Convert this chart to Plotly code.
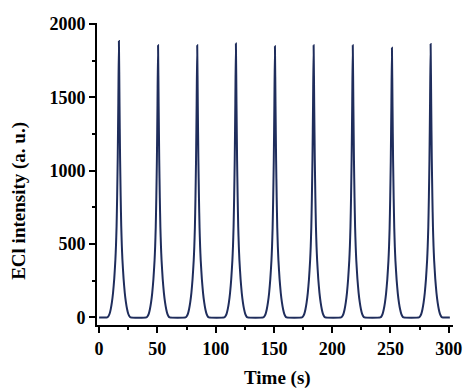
import plotly.graph_objects as go

# Peak data
peak_times = [17.0, 50.6, 84.2, 117.4, 150.9, 184.1, 217.7, 251.3, 284.5]
peak_heights = [1886, 1856, 1856, 1868, 1849, 1856, 1856, 1840, 1865]

# Shape of a single ECL pulse (offset in s, fraction of peak height)
profile_offsets = [-10, -9, -8, -7, -6, -5, -4, -3, -2.5, -2, -1.5, -1, -0.5, 0,
                   0.5, 1, 1.5, 2, 2.5, 3, 4, 5, 6, 7, 8, 9, 10]
profile_fractions = [0, 0.004, 0.013, 0.03, 0.055, 0.09, 0.14, 0.21, 0.26, 0.33, 0.44, 0.58, 0.78, 1.0,
                     0.78, 0.58, 0.44, 0.33, 0.26, 0.21, 0.14, 0.09, 0.055, 0.03, 0.013, 0.004, 0]

t_start, t_end = 0.0, 301.0

x_tick_vals = [0, 50, 100, 150, 200, 250, 300]
y_tick_vals = [0, 500, 1000, 1500, 2000]

# Build the series
xs = [t_start]
ys = [0]
for t0, h in zip(peak_times, peak_heights):
    for d, f in zip(profile_offsets, profile_fractions):
        xs.append(t0 + d)
        ys.append(h * f)
xs.append(t_end)
ys.append(0)

line_color = "#1f2d5c"
font_family = "Liberation Serif"

fig = go.Figure()
fig.add_trace(go.Scatter(x=xs, y=ys, mode="lines",
                         line=dict(color=line_color, width=2, shape="spline", smoothing=0.5),
                         hoverinfo="skip", showlegend=False))

axis_common = dict(
    showline=True, linecolor="black", linewidth=2,
    ticks="outside", ticklen=6, tickwidth=2, tickcolor="black",
    showgrid=False, zeroline=False, mirror=False, automargin=False,
    tickfont=dict(family=font_family, size=18, color="black", weight="bold"),
)

fig.update_xaxes(range=[-1.8, 303.7], tickvals=x_tick_vals,
                 minor=dict(ticks="outside", ticklen=3, tickwidth=2, tickcolor="black", dtick=25, tick0=0),
                 **axis_common)
fig.update_yaxes(range=[-52, 2008], tickvals=y_tick_vals,
                 minor=dict(ticks="outside", ticklen=3, tickwidth=2, tickcolor="black", dtick=250, tick0=0),
                 **axis_common)

fig.add_annotation(text="<b>Time (s)</b>", xref="paper", yref="paper",
                   x=0.5076, y=-0.1753, showarrow=False,
                   font=dict(family=font_family, size=19, color="black"),
                   xanchor="center", yanchor="middle")
fig.add_annotation(text="<b>ECl intensity (a. u.)</b>", xref="paper", yref="paper",
                   x=-0.2173, y=0.41, showarrow=False, textangle=-90,
                   font=dict(family=font_family, size=19, color="black"),
                   xanchor="center", yanchor="middle")

fig.update_layout(width=464, height=390,
                  margin=dict(l=97, r=11, t=23, b=65),
                  paper_bgcolor="white", plot_bgcolor="white")

fig.write_html("out.html")
